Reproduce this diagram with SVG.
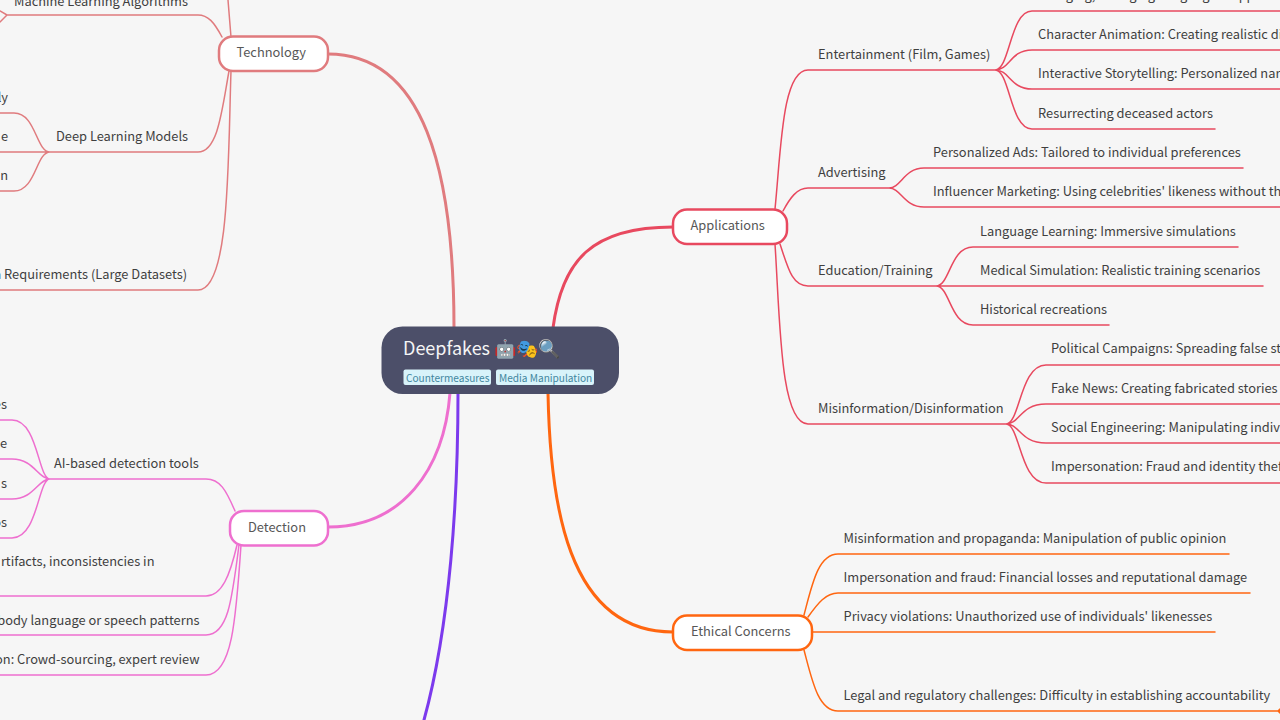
<svg xmlns="http://www.w3.org/2000/svg" width="1280" height="720" viewBox="0 0 1280 720">
<style>
text{font-family:"Noto Sans CJK SC","Noto Sans",sans-serif}
.t{font-size:12.85px;fill:#3f3f3f}
.e{text-anchor:end}
.n{font-size:12.85px;fill:#575757}
.b{fill:#fff;stroke-width:2.5}
path{fill:none;stroke-linecap:round}
.c1{stroke:#e07b7e}.c2{stroke:#e8495f}.c3{stroke:#ee6fcf}.c4{stroke:#ff6610}.c5{stroke:#7c3aed}
.th{stroke-width:3}.l{stroke-width:1.5}
.tag{fill:#d8f3fa}.tt{font-size:10.100px;fill:#42879f}
</style>
<rect width="1280" height="720" fill="#f6f6f6"/>
<g id="connectors">
<path class="c1 th" d="M454 328C454 170 424 54 328 54"/>
<path class="c2 th" d="M553 328C562 260 592 227 673 227"/>
<path class="c3 th" d="M450 393C444 470 402 527 328 527"/>
<path class="c4 th" d="M548 393C550 500 566 632 673 632"/>
<path class="c5 th" d="M458 393C458 500 450 625 424 720"/>
<g class="c1 l">
<path d="M228 0L231 37"/>
<path d="M222 37C214 22 208 15 198 15H7M7 15L0 11M7 15L0 22"/>
<path d="M229 71C222 110 218 152 198 152H0M50 152C36 152 36 113 14 113H0M50 152C36 152 36 191 14 191H0"/>
<path d="M231 71C228 160 230 290 198 290H0"/>
</g>
<g class="c2 l">
<path d="M775 209C781 150 782 70 808 70H995M995 70C1010 70 1010 11 1032 11H1280M995 70C1010 70 1010 50 1032 50H1280M995 70C1010 70 1010 89 1032 89H1280M995 70C1010 70 1010 129 1032 129H1215"/>
<path d="M783 211C790 198 797 188 808 188H889M889 188C901 188 904 168 924 168H1243M889 188C901 188 904 207 924 207H1280"/>
<path d="M780 244C788 268 792 286 808 286H936M936 286H1263M936 286C950 286 950 247 973 247H1238M936 286C950 286 950 325 973 325H1109"/>
<path d="M775 244C780 320 780 424 808 424H1006M1006 424C1020 424 1020 365 1046 365H1280M1006 424C1020 424 1020 404 1046 404H1280M1006 424C1020 424 1020 443 1046 443H1280M1006 424C1020 424 1020 483 1046 483H1280"/>
</g>
<g class="c3 l">
<path d="M235 511C226 490 220 479 206 479H50M50 479C38 479 38 420 12 420H0M50 479C38 479 34 459 12 459H0M50 479C38 479 34 499 12 499H0M50 479C38 479 38 538 12 538H0"/>
<path d="M237 545C230 575 222 596 206 596H0"/>
<path d="M239 545C232 600 228 635 206 635H0"/>
<path d="M241 545C236 620 232 675 206 675H0"/>
</g>
<g class="c4 l">
<path d="M804 615C812 585 818 554 838 554H1229"/>
<path d="M808 617C818 603 826 593 838 593H1250"/>
<path d="M812 632H1215"/>
<path d="M804 650C812 680 818 711 838 711H1280M1278 711L1280 709M1278 711L1280 713"/>
</g>
</g>
<g id="root">
<rect x="381.500" y="326.500" width="237.500" height="67.500" rx="21" fill="#4c4f69"/>
<text x="403" y="354.500" font-size="18" fill="#f5f5f5">Deepfakes 🤖🎭🔍</text>
<rect class="tag" x="403.500" y="369.500" width="87.500" height="15.500" rx="2"/>
<text class="tt" x="406" y="382">Countermeasures</text>
<rect class="tag" x="496" y="369.500" width="98" height="15.500" rx="2"/>
<text class="tt" x="499" y="382">Media Manipulation</text>
</g>
<g id="technology"><rect class="b c1" x="219" y="36.500" width="109" height="34.500" rx="14"/><text class="n" x="236.500" y="57">Technology</text></g>
<g id="applications"><rect class="b c2" x="673" y="209.500" width="114" height="34.500" rx="14"/><text class="n" x="690.500" y="230">Applications</text></g>
<g id="detection"><rect class="b c3" x="230" y="511" width="98" height="34.500" rx="14"/><text class="n" x="248" y="532">Detection</text></g>
<g id="ethical"><rect class="b c4" x="673" y="615.500" width="139" height="34.500" rx="14"/><text class="n" x="691" y="636">Ethical Concerns</text></g>
<g id="labels-technology">
<text class="t" x="14" y="6">Machine Learning Algorithms</text>
<text class="t e" x="8" y="102">ly</text>
<text class="t e" x="8" y="141">e</text>
<text class="t" x="56" y="141">Deep Learning Models</text>
<text class="t e" x="8" y="180">n</text>
<text class="t e" x="187" y="279">a Requirements (Large Datasets)</text>
</g>
<g id="labels-detection">
<text class="t e" x="7" y="409">es</text>
<text class="t e" x="7" y="448">e</text>
<text class="t" x="54" y="468">AI-based detection tools</text>
<text class="t e" x="7" y="488">s</text>
<text class="t e" x="7" y="527">os</text>
<text class="t e" x="154.500" y="566">rtifacts, inconsistencies in</text>
<text class="t e" x="199.500" y="625">body language or speech patterns</text>
<text class="t e" x="199.500" y="664">on: Crowd-sourcing, expert review</text>
</g>
<g id="labels-applications">
<text class="t" x="818" y="59">Entertainment (Film, Games)</text>
<text class="t" x="1038" y="0">De-aging, Changing Language &amp; Appearance</text>
<text class="t" x="1038" y="39">Character Animation: Creating realistic di</text>
<text class="t" x="1038" y="78">Interactive Storytelling: Personalized nar</text>
<text class="t" x="1038" y="118">Resurrecting deceased actors</text>
<text class="t" x="818" y="177">Advertising</text>
<text class="t" x="933" y="157">Personalized Ads: Tailored to individual preferences</text>
<text class="t" x="933" y="196">Influencer Marketing: Using celebrities' likeness without th</text>
<text class="t" x="818" y="275">Education/Training</text>
<text class="t" x="980" y="236">Language Learning: Immersive simulations</text>
<text class="t" x="980" y="275">Medical Simulation: Realistic training scenarios</text>
<text class="t" x="980" y="314">Historical recreations</text>
<text class="t" x="818" y="413">Misinformation/Disinformation</text>
<text class="t" x="1051" y="353">Political Campaigns: Spreading false st</text>
<text class="t" x="1051" y="393">Fake News: Creating fabricated stories</text>
<text class="t" x="1051" y="432">Social Engineering: Manipulating indiv</text>
<text class="t" x="1051" y="471">Impersonation: Fraud and identity thef</text>
</g>
<g id="labels-ethical">
<text class="t" x="843.500" y="543">Misinformation and propaganda: Manipulation of public opinion</text>
<text class="t" x="843.500" y="582">Impersonation and fraud: Financial losses and reputational damage</text>
<text class="t" x="843.500" y="621">Privacy violations: Unauthorized use of individuals' likenesses</text>
<text class="t" x="843.500" y="700">Legal and regulatory challenges: Difficulty in establishing accountability</text>
</g>
</svg>
